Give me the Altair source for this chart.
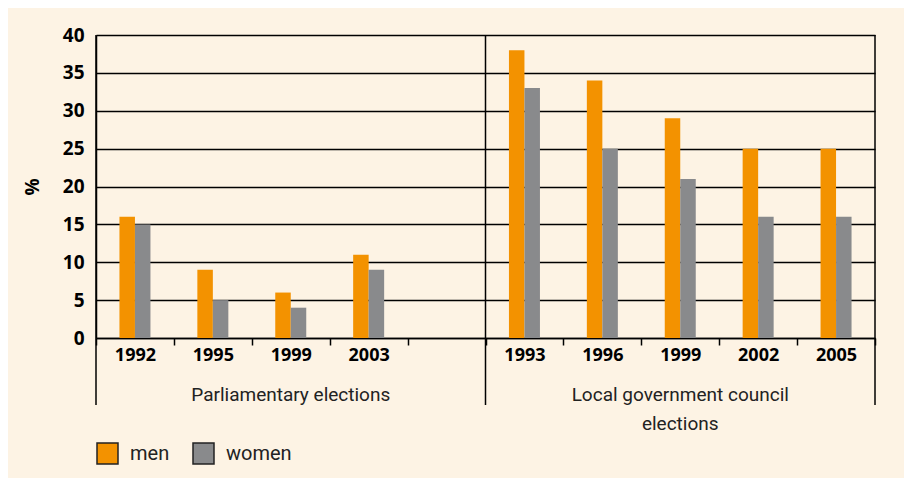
import altair as alt
import pandas as pd

# ---- data ----
slot_keys = ["P1992", "P1995", "P1999", "P2003", "G",
             "L1993", "L1996", "L1999", "L2002", "L2005"]
men = [16, 9, 6, 11, None, 38, 34, 29, 25, 25]
women = [15, 5, 4, 9, None, 33, 25, 21, 16, 16]
series = ["men", "women"]
colors = ["#F39200", "#898A8C"]
y_ticks = [0, 5, 10, 15, 20, 25, 30, 35, 40]
group_slots = ["P1999", "L1999"]
group_labels = ["Parliamentary elections", "Local government council\nelections"]
frame_left = ["P1992", "L1993"]
frame_right = ["L2005"]

rows = []
for k, m, w in zip(slot_keys, men, women):
    if m is not None:
        rows.append({"slot": k, "sex": "men", "value": m})
    if w is not None:
        rows.append({"slot": k, "sex": "women", "value": w})
df = pd.DataFrame(rows)

BG = "#FDF3E4"
NUM_FONT = "Open Sans"
TXT_FONT = "Roboto"
W, H = 779, 303
STEP = W / len(slot_keys)
PAIR = 31

x_axis = alt.Axis(
    title=None,
    labelExpr="isString(datum.value) ? substring(datum.value, 1) : ''",
    labelAngle=0,
    tickBand="extent", tickSize=7, tickColor="black", tickWidth=1.5,
    domainColor="black", domainWidth=1.5,
    labelFont=NUM_FONT, labelFontSize=18, labelFontWeight="bold",
    labelColor="black", labelPadding=1,
)
x_scale = alt.Scale(domain=slot_keys, paddingInner=0, paddingOuter=0)


def xenc(band=None):
    if band is None:
        return alt.X("slot:N", scale=x_scale, axis=x_axis)
    return alt.X("slot:N", scale=x_scale, axis=x_axis, bandPosition=band)


bars = alt.Chart(df).mark_bar().encode(
    x=xenc(),
    xOffset=alt.XOffset("sex:N", scale=alt.Scale(
        domain=series, paddingOuter=0, paddingInner=0,
        range=[STEP / 2 - PAIR / 2, STEP / 2 + PAIR / 2])),
    y=alt.Y("value:Q", scale=alt.Scale(domain=[0, 40], nice=False),
            axis=alt.Axis(values=y_ticks, title="%", grid=True, gridColor="black",
                          gridWidth=1.5, domainColor="black", domainWidth=1.5,
                          tickSize=0, labelPadding=12, labelFont=NUM_FONT,
                          labelFontSize=19, labelFontWeight="bold", labelColor="black",
                          titleFont=NUM_FONT, titleFontSize=19, titleFontWeight="bold",
                          titleColor="black", titlePadding=20)),
    color=alt.Color("sex:N", scale=alt.Scale(domain=series, range=colors),
                    legend=alt.Legend(orient="none", legendX=0, legendY=407,
                                      direction="horizontal", title=None,
                                      symbolType="square", symbolSize=441,
                                      symbolStrokeColor="#222", symbolStrokeWidth=1.5,
                                      labelFont=TXT_FONT, labelFontSize=20,
                                      labelColor="#222", labelOffset=11,
                                      columnPadding=20, padding=0)),
)

rules_l = alt.Chart(pd.DataFrame({"slot": frame_left})).mark_rule(
    color="black", strokeWidth=1.5, clip=False
).encode(x=xenc(0), y=alt.value(0), y2=alt.value(370))

rules_r = alt.Chart(pd.DataFrame({"slot": frame_right})).mark_rule(
    color="black", strokeWidth=1.5, clip=False
).encode(x=xenc(1), y=alt.value(0), y2=alt.value(370))

texts = alt.Chart(pd.DataFrame({"slot": group_slots, "label": group_labels})).mark_text(
    font=TXT_FONT, fontSize=19, color="#222", baseline="alphabetic",
    lineBreak="\n", lineHeight=29, align="center"
).encode(x=xenc(), y=alt.value(366), text="label:N")

chart = alt.layer(bars, rules_l, rules_r, texts).properties(
    width=W, height=H, autosize="none",
    padding={"left": 88, "top": 27, "right": 29, "bottom": 140},
    background=BG,
).configure_view(stroke=None)

chart.save("out.html", embed_options={"renderer": "svg", "actions": False})
